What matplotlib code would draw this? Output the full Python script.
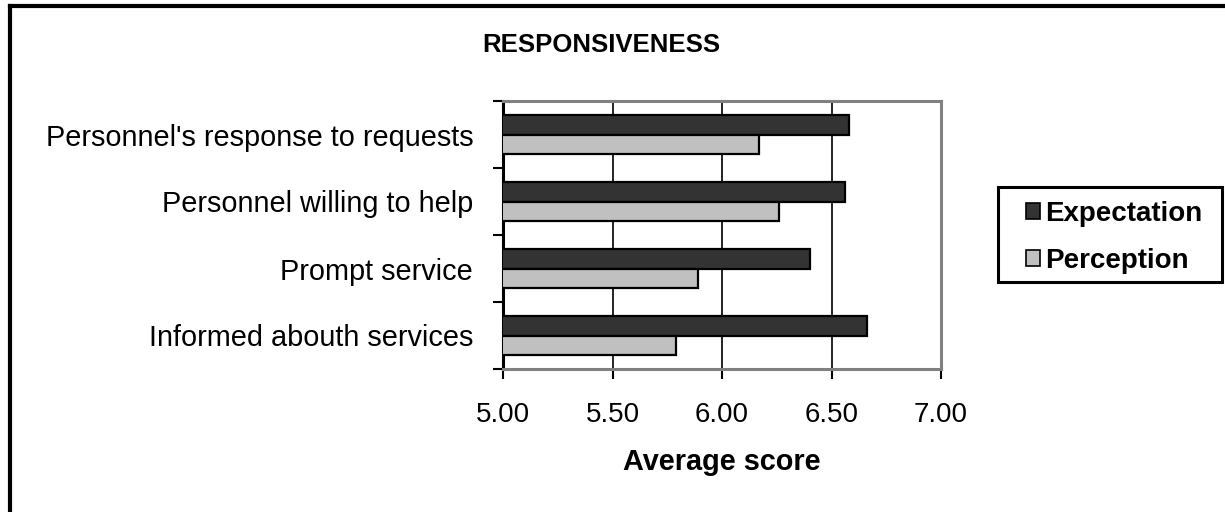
import numpy as np
import matplotlib
matplotlib.use("Agg")
import matplotlib.pyplot as plt
from matplotlib.lines import Line2D
from matplotlib.patches import Patch, Rectangle

plt.rcParams['font.family'] = ['Liberation Sans', 'DejaVu Sans']

# categories listed bottom -> top (as Excel draws them)
categories = ["Informed abouth services", "Prompt service",
              "Personnel willing to help", "Personnel's response to requests"]
expectation = [6.66, 6.40, 6.56, 6.58]
perception = [5.79, 5.89, 6.26, 6.17]
xticks = [5.00, 5.50, 6.00, 6.50, 7.00]

W, H = 1225, 512
fig = plt.figure(figsize=(W / 100, H / 100), dpi=100)
ax = fig.add_axes([503 / W, 1 - 369 / H, (941 - 503) / W, (369 - 101) / H])

y = np.arange(len(categories))
bh = 0.29
ax.barh(y + bh / 2, expectation, height=bh, left=0, color="#333333",
        edgecolor="black", linewidth=1.6, label="Expectation", zorder=3)
ax.barh(y - bh / 2, perception, height=bh, left=0, color="#c0c0c0",
        edgecolor="black", linewidth=1.6, label="Perception", zorder=3)

ax.set_xlim(5.0, 7.0)
ax.set_ylim(-0.5, len(categories) - 0.5)
ax.set_xticks(xticks)
ax.set_xticklabels(["%.2f" % v for v in xticks], fontsize=20)
ax.tick_params(axis="x", direction="out", length=7, width=1.5, pad=17, colors="black")

ax.set_yticks(np.arange(-0.5, len(categories), 1.0))
ax.set_yticklabels([])
ax.tick_params(axis="y", which="major", direction="out", length=7, width=1.5)
ax.set_yticks(y, minor=True)
ax.set_yticklabels(categories, minor=True, fontsize=20.8)
ax.tick_params(axis="y", which="minor", length=0, pad=21.5)

ax.grid(axis="x", color="black", linewidth=1.2, zorder=0)
ax.set_axisbelow(True)

for s in ["top", "right", "bottom"]:
    ax.spines[s].set_color("#808080")
    ax.spines[s].set_linewidth(2.2)
ax.spines["left"].set_color("black")
ax.spines["left"].set_linewidth(2.2)

ax.set_xlabel("Average score", fontsize=20.8, fontweight="bold", labelpad=14)

fig.text(601 / W, 1 - 45 / H, "RESPONSIVENESS", fontsize=18.5,
         fontweight="bold", ha="center", va="center")

# legend box drawn by hand, legend entries placed inside it
fig.add_artist(Rectangle((998 / W, 1 - 282 / H), (1222 - 998) / W, (282 - 187) / H,
                         transform=fig.transFigure, facecolor="white",
                         edgecolor="black", linewidth=2.2, zorder=1))
handles = [Patch(facecolor="#333333", edgecolor="black", linewidth=1.2),
           Patch(facecolor="#c0c0c0", edgecolor="black", linewidth=1.2)]
leg = fig.legend(handles, ["Expectation", "Perception"], loc="upper left",
                 bbox_to_anchor=(1026 / W, 1 - 201 / H),
                 prop={"size": 20, "weight": "bold"}, frameon=False,
                 handlelength=0.5, handleheight=0.5, handletextpad=0.2,
                 labelspacing=0.75, borderpad=0, borderaxespad=0)
leg.set_zorder(2)

# outer frame of the chart (right and bottom edges fall outside the picture)
fig.add_artist(Line2D([10 / W, 10 / W], [0, 1 - 6 / H], transform=fig.transFigure,
                      color="black", linewidth=3))
fig.add_artist(Line2D([10 / W, 1], [1 - 6 / H, 1 - 6 / H], transform=fig.transFigure,
                      color="black", linewidth=3))

fig.savefig("out.png", dpi=100)
